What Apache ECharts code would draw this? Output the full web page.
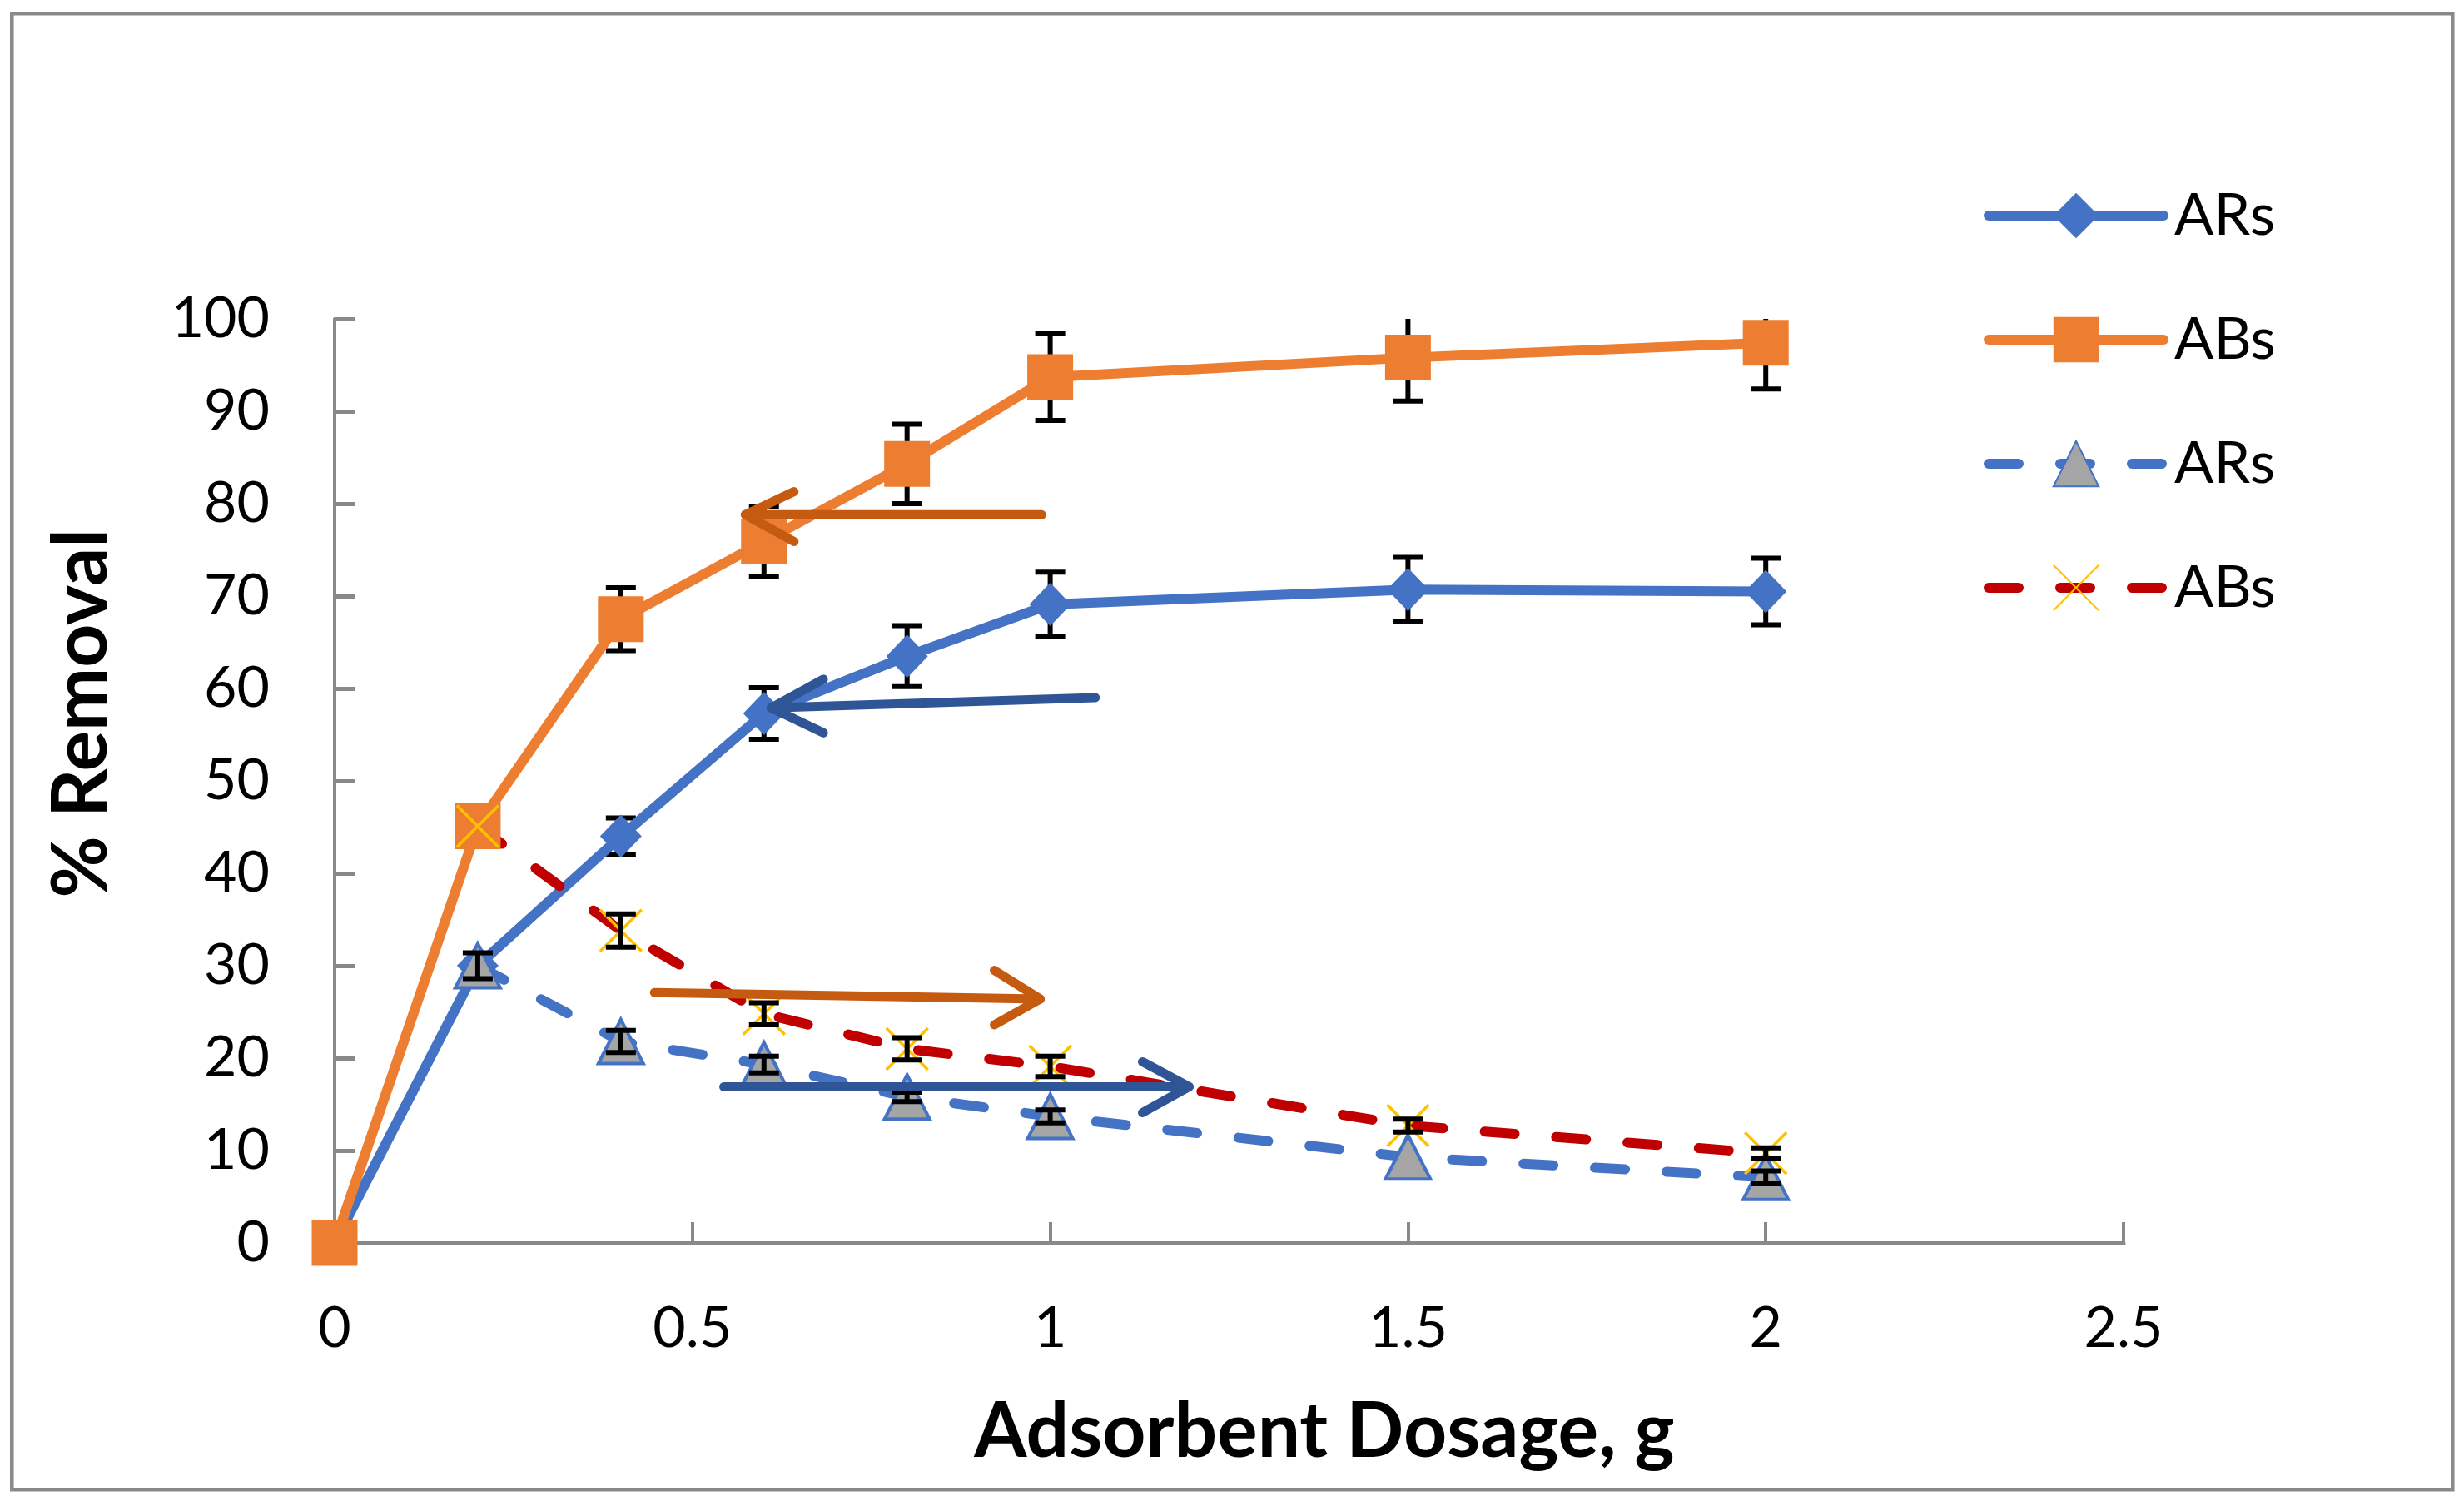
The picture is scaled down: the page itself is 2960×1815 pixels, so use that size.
<!DOCTYPE html>
<html>
<head>
<meta charset="utf-8">
<script src="https://cdn.jsdelivr.net/npm/echarts@6/dist/echarts.min.js"></script>
<style>
html,body{margin:0;padding:0;background:#fff;}
#chart{width:2960px;height:1815px;}
</style>
</head>
<body>
<div id="chart"></div>
<script>
// ---- data ----
const dosage = [0, 0.2, 0.4, 0.6, 0.8, 1, 1.5, 2];
const dosageDashed = [0.2, 0.4, 0.6, 0.8, 1, 1.5, 2];

const arsSolid = [0, 30.0, 44.0, 57.3, 63.5, 69.1, 70.7, 70.5];
const arsSolidErr = [0, 0, 2.0, 2.8, 3.3, 3.5, 3.5, 3.6];
const absSolid = [0, 45.1, 67.5, 75.9, 84.3, 93.7, 95.8, 97.4];
const absSolidErr = [0, 0, 3.4, 3.8, 4.3, 4.7, 4.7, 5.0];

const arsDashed = [30.0, 21.8, 19.3, 15.8, 13.7, 9.3, 7.1];
const arsDashedErr = [1.4, 1.2, 0.9, 0.5, 0.7, 0, 0.7];
const absDashed = [45.1, 33.8, 24.8, 21.0, 19.1, 12.7, 9.7];
const absDashedErr = [0, 1.8, 1.2, 1.2, 1.1, 0.7, 0.6];

const seriesNames = ['ARs', 'ABs', 'ARs ', 'ABs '];
const xTitle = 'Adsorbent Dosage, g';
const yTitle = '% Removal';

// annotation arrows (data coordinates)
const arrowOrangeLeftShaft = [[0.988, 78.8], [0.574, 78.8]];
const arrowOrangeLeftHead = [[0.642, 81.3], [0.574, 78.8], [0.642, 75.9]];
const arrowBlueLeftShaft = [[1.063, 59.0], [0.610, 57.9]];
const arrowBlueLeftHead = [[0.683, 61.0], [0.610, 57.9], [0.683, 55.2]];
const arrowOrangeRightShaft = [[0.447, 27.1], [0.986, 26.4]];
const arrowOrangeRightHead = [[0.922, 29.5], [0.986, 26.4], [0.922, 23.6]];
const arrowBlueRightShaft = [[0.544, 16.9], [1.194, 16.9]];
const arrowBlueRightHead = [[1.129, 19.6], [1.194, 16.9], [1.129, 14.1]];

// ---- build ----
const pair = (xs, ys) => xs.map((x, i) => [x, ys[i]]);
const errRows = (xs, ys, es) => xs.map((x, i) => [x, ys[i] - es[i], ys[i] + es[i]]).filter((r, i) => es[i] > 0);

function renderErr(params, api) {
  const x = api.value(0), lo = api.value(1), hi = api.value(2);
  const a = api.coord([x, lo]), b = api.coord([x, hi]);
  const hw = 18;
  const st = { stroke: '#000', lineWidth: 6 };
  return {
    type: 'group',
    children: [
      { type: 'line', shape: { x1: a[0], y1: a[1], x2: b[0], y2: b[1] }, style: st },
      { type: 'line', shape: { x1: a[0] - hw, y1: a[1], x2: a[0] + hw, y2: a[1] }, style: st },
      { type: 'line', shape: { x1: b[0] - hw, y1: b[1], x2: b[0] + hw, y2: b[1] }, style: st }
    ]
  };
}
function errSeries(rows, z) {
  return { type: 'custom', renderItem: renderErr, data: rows, z: z, clip: true, silent: true,
           encode: { x: 0, y: [1, 2] } };
}
function arrowSeries(data, color) {
  return { type: 'line', data: data, symbol: 'none', silent: true, z: 6,
           lineStyle: { color: color, width: 11, cap: 'round', join: 'round' } };
}

const font = 'Lato';
const axisGray = '#898989';
const LW = 12;

const option = {
  animation: false,
  backgroundColor: '#fff',
  grid: { left: 402, right: 409, top: 383, bottom: 322 },
  xAxis: {
    type: 'value', min: 0, max: 2.5, interval: 0.5,
    axisLine: { show: true, lineStyle: { color: axisGray, width: 5 } },
    axisTick: { show: true, inside: true, length: 25, lineStyle: { color: axisGray, width: 4 } },
    splitLine: { show: false },
    axisLabel: { color: '#000', fontSize: 68, fontFamily: font, margin: 69 }
  },
  yAxis: {
    type: 'value', min: 0, max: 100, interval: 10,
    axisLine: { show: true, lineStyle: { color: axisGray, width: 4 } },
    axisTick: { show: true, inside: true, length: 25, lineStyle: { color: axisGray, width: 5 } },
    splitLine: { show: false },
    axisLabel: { color: '#000', fontSize: 68, fontFamily: font, margin: 78 }
  },
  legend: {
    data: seriesNames,
    orient: 'vertical',
    left: 2378, top: 219,
    itemWidth: 210, itemHeight: 68, itemGap: 79,
    formatter: n => n.trim(),
    lineStyle: { width: LW },
    textStyle: { color: '#000', fontSize: 70, fontFamily: font, padding: [0, 0, 0, 8] }
  },
  graphic: [
    { type: 'rect', shape: { x: 14.3, y: 16.3, width: 2932, height: 1773 },
      style: { fill: 'none', stroke: axisGray, lineWidth: 4.5 }, silent: true, z: 0 },
    { type: 'text', x: 1591, y: 1721,
      style: { text: xTitle, font: 'bold 91px Lato', fill: '#000', textAlign: 'center', textVerticalAlign: 'middle' } },
    { type: 'text', x: 99, y: 857, rotation: Math.PI / 2,
      style: { text: yTitle, font: 'bold 91px Lato', fill: '#000', textAlign: 'center', textVerticalAlign: 'middle' } }
  ],
  series: [
    errSeries(errRows(dosage, arsSolid, arsSolidErr), 2),
    errSeries(errRows(dosage, absSolid, absSolidErr), 2),
    {
      name: seriesNames[0], type: 'line', data: pair(dosage, arsSolid), z: 3,
      symbol: 'diamond', symbolSize: [50, 52],
      lineStyle: { color: '#4472C4', width: LW, cap: 'round', join: 'round' },
      itemStyle: { color: '#4472C4' }
    },
    {
      name: seriesNames[1], type: 'line', data: pair(dosage, absSolid), z: 3,
      symbol: 'rect', symbolSize: 55,
      lineStyle: { color: '#ED7D31', width: LW, cap: 'round', join: 'round' },
      itemStyle: { color: '#ED7D31' }
    },
    {
      name: seriesNames[2], type: 'line', data: pair(dosageDashed, arsDashed), z: 3,
      symbol: 'triangle', symbolSize: [54, 53],
      lineStyle: { color: '#4472C4', width: LW, type: [36, 50], cap: 'round' },
      itemStyle: { color: '#A5A5A5', borderColor: '#4472C4', borderWidth: 4 }
    },
    {
      name: seriesNames[3], type: 'line', data: pair(dosageDashed, absDashed), z: 3,
      symbol: 'path://M0,0L10,10M10,0L0,10', symbolSize: 50,
      lineStyle: { color: '#C00000', width: LW, type: [36, 50], cap: 'round' },
      itemStyle: { color: '#FFC000', borderColor: '#FFC000', borderWidth: 3.5 }
    },
    errSeries(errRows(dosageDashed, arsDashed, arsDashedErr), 4),
    errSeries(errRows(dosageDashed, absDashed, absDashedErr), 4),
    arrowSeries(arrowOrangeLeftShaft, '#C55A11'),
    arrowSeries(arrowOrangeLeftHead, '#C55A11'),
    arrowSeries(arrowBlueLeftShaft, '#2F5597'),
    arrowSeries(arrowBlueLeftHead, '#2F5597'),
    arrowSeries(arrowOrangeRightShaft, '#C55A11'),
    arrowSeries(arrowOrangeRightHead, '#C55A11'),
    arrowSeries(arrowBlueRightShaft, '#2F5597'),
    arrowSeries(arrowBlueRightHead, '#2F5597')
  ]
};

const chart = echarts.init(document.getElementById('chart'), null, { renderer: 'canvas' });
chart.setOption(option);
</script>
</body>
</html>
